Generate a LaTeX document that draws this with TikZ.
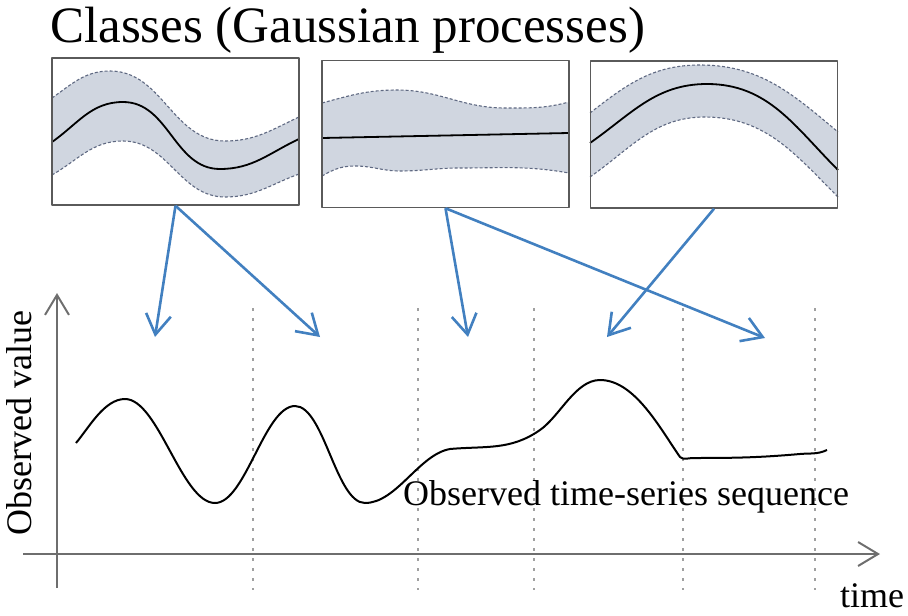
\documentclass[tikz,border=0pt]{standalone}
\usepackage{fontspec}
\setmainfont{Liberation Serif}
\usetikzlibrary{arrows.meta, positioning}
\definecolor{boxgray}{RGB}{90,90,90}
\definecolor{bandfill}{RGB}{208,214,224}
\definecolor{banddash}{RGB}{95,105,130}
\definecolor{arrowblue}{RGB}{66,128,192}
\definecolor{axisgray}{RGB}{110,110,110}
\definecolor{sepgray}{RGB}{160,160,160}

\begin{document}
\begin{tikzpicture}[x=1pt, y=-1pt, line join=round,
  gp box/.style={rectangle, draw=boxgray, line width=1.5pt, inner sep=0pt,
    minimum width=247pt, minimum height=147pt},
  band/.style={fill=bandfill},
  bound/.style={draw=banddash, dash pattern=on 3pt off 2pt, line width=1.1pt},
  mean/.style={black, line width=1.8pt},
  flow/.style={color=arrowblue, line width=2.6pt, -{Straight Barb[length=20pt, width=25pt]}},
  axis/.style={draw=axisgray, line width=2pt, -{Straight Barb[length=20pt, width=24pt]}},
  sep/.style={draw=sepgray, line width=2.5pt, dash pattern=on 2.5pt off 7.5pt},
  series/.style={black, line width=2pt},
  label/.style={inner sep=0pt, font=\fontsize{36}{40}\selectfont}]
  \useasboundingbox (0,0) rectangle (908,616);

  \node[anchor=base west, inner sep=0pt, font=\fontsize{51}{56}\selectfont] (title) at (50,42)
    {Classes (Gaussian processes)};

  % first class
  \fill[band] (52,98) to[out=35,in=180] (110,71) to[out=0,in=180] (225,141) to[out=0,in=205] (299,117)
    -- (299,174) to[out=200,in=0] (225,197) to[out=180,in=0] (123,141) to[out=180,in=30] (52,175) -- cycle;
  \draw[bound] (52,98) to[out=35,in=180] (110,71) to[out=0,in=180] (225,141) to[out=0,in=205] (299,117);
  \draw[bound] (52,175) to[out=30,in=180] (123,141) to[out=0,in=180] (225,197) to[out=0,in=200] (299,174);
  \draw[mean] (52,142) to[out=35,in=180] (123,102) to[out=0,in=180] (220,169) to[out=0,in=205] (299,139);

  % second class
  \fill[band] (322,103) to[out=15,in=180] (397,90) to[out=0,in=180] (505,108) to[out=0,in=195] (569,102)
    -- (569,173) to[out=170,in=0] (460,168) to[out=180,in=0] (400,171) to[out=180,in=0] (355,166)
    to[out=180,in=30] (322,176) -- cycle;
  \draw[bound] (322,103) to[out=15,in=180] (397,90) to[out=0,in=180] (505,108) to[out=0,in=195] (569,102);
  \draw[bound] (322,176) to[out=30,in=180] (355,166) to[out=0,in=180] (400,171) to[out=0,in=180] (460,168)
    to[out=0,in=170] (569,173);
  \draw[mean] (322,138) -- (569,133);

  % third class
  \fill[band] (590,113) to[out=38,in=180] (700,65) to[out=0,in=140] (838,132)
    -- (838,197) to[out=135,in=0] (705,117) to[out=180,in=35] (590,177) -- cycle;
  \draw[bound] (590,113) to[out=38,in=180] (700,65) to[out=0,in=140] (838,132);
  \draw[bound] (590,177) to[out=35,in=180] (705,117) to[out=0,in=135] (838,197);
  \draw[mean] (590,143) to[out=35,in=180] (707,84) to[out=0,in=135] (838,170);

  \node[gp box] (gp1) at (175.5,131.5) {};
  \node[gp box] (gp2) at (445.5,134) {};
  \node[gp box] (gp3) at (714,134.5) {};

  \coordinate (seg1) at (155,337);
  \coordinate (seg2) at (320,337);
  \coordinate (seg3) at (468,337);
  \coordinate (seg4) at (607,337);
  \coordinate (seg5) at (765,338);
  \path[flow]
    (gp1.south) edge (seg1)
    (gp1.south) edge (seg2)
    (gp2.south) edge (seg3)
    (gp2.south) edge (seg5)
    (gp3.south) edge (seg4);

  \draw[sep] (253,308) -- (253,590) (418,308) -- (418,590) (534,308) -- (534,590)
    (683,308) -- (683,590) (815,308) -- (815,590);

  \coordinate (ybot) at (57,588);
  \coordinate (ytop) at (57,293);
  \coordinate (xleft) at (23,554);
  \coordinate (xright) at (880,554);
  \draw[axis] (ybot) -- (ytop);
  \draw[axis] (xleft) -- (xright);

  % observed sequence
  \draw[series] (76,443) to[out=50,in=180,looseness=0.8] (125,399)
    to[out=0,in=180,looseness=0.62] (215,503)
    to[out=0,in=180,looseness=0.62] (295,406) to[out=0,in=180,looseness=0.62] (365,503)
    to[out=0,in=190,looseness=0.8] (450,449)
    to[out=5,in=215] (540,430) to[out=35,in=180,looseness=0.8] (600,380)
    to[out=0,in=125,looseness=0.8] (680,457)
    to[out=-40,in=180] (693,458) to[out=0,in=185] (800,454) to[out=5,in=205] (827,450);

  \node[label, anchor=base west] (seqlabel) at (403,505) {Observed time-series sequence};
  \node[label, anchor=base west] (timelabel) at (840,607) {time};
  \node[label, rotate=90] (vallabel) at (19,423) {Observed value};
\end{tikzpicture}
\end{document}
